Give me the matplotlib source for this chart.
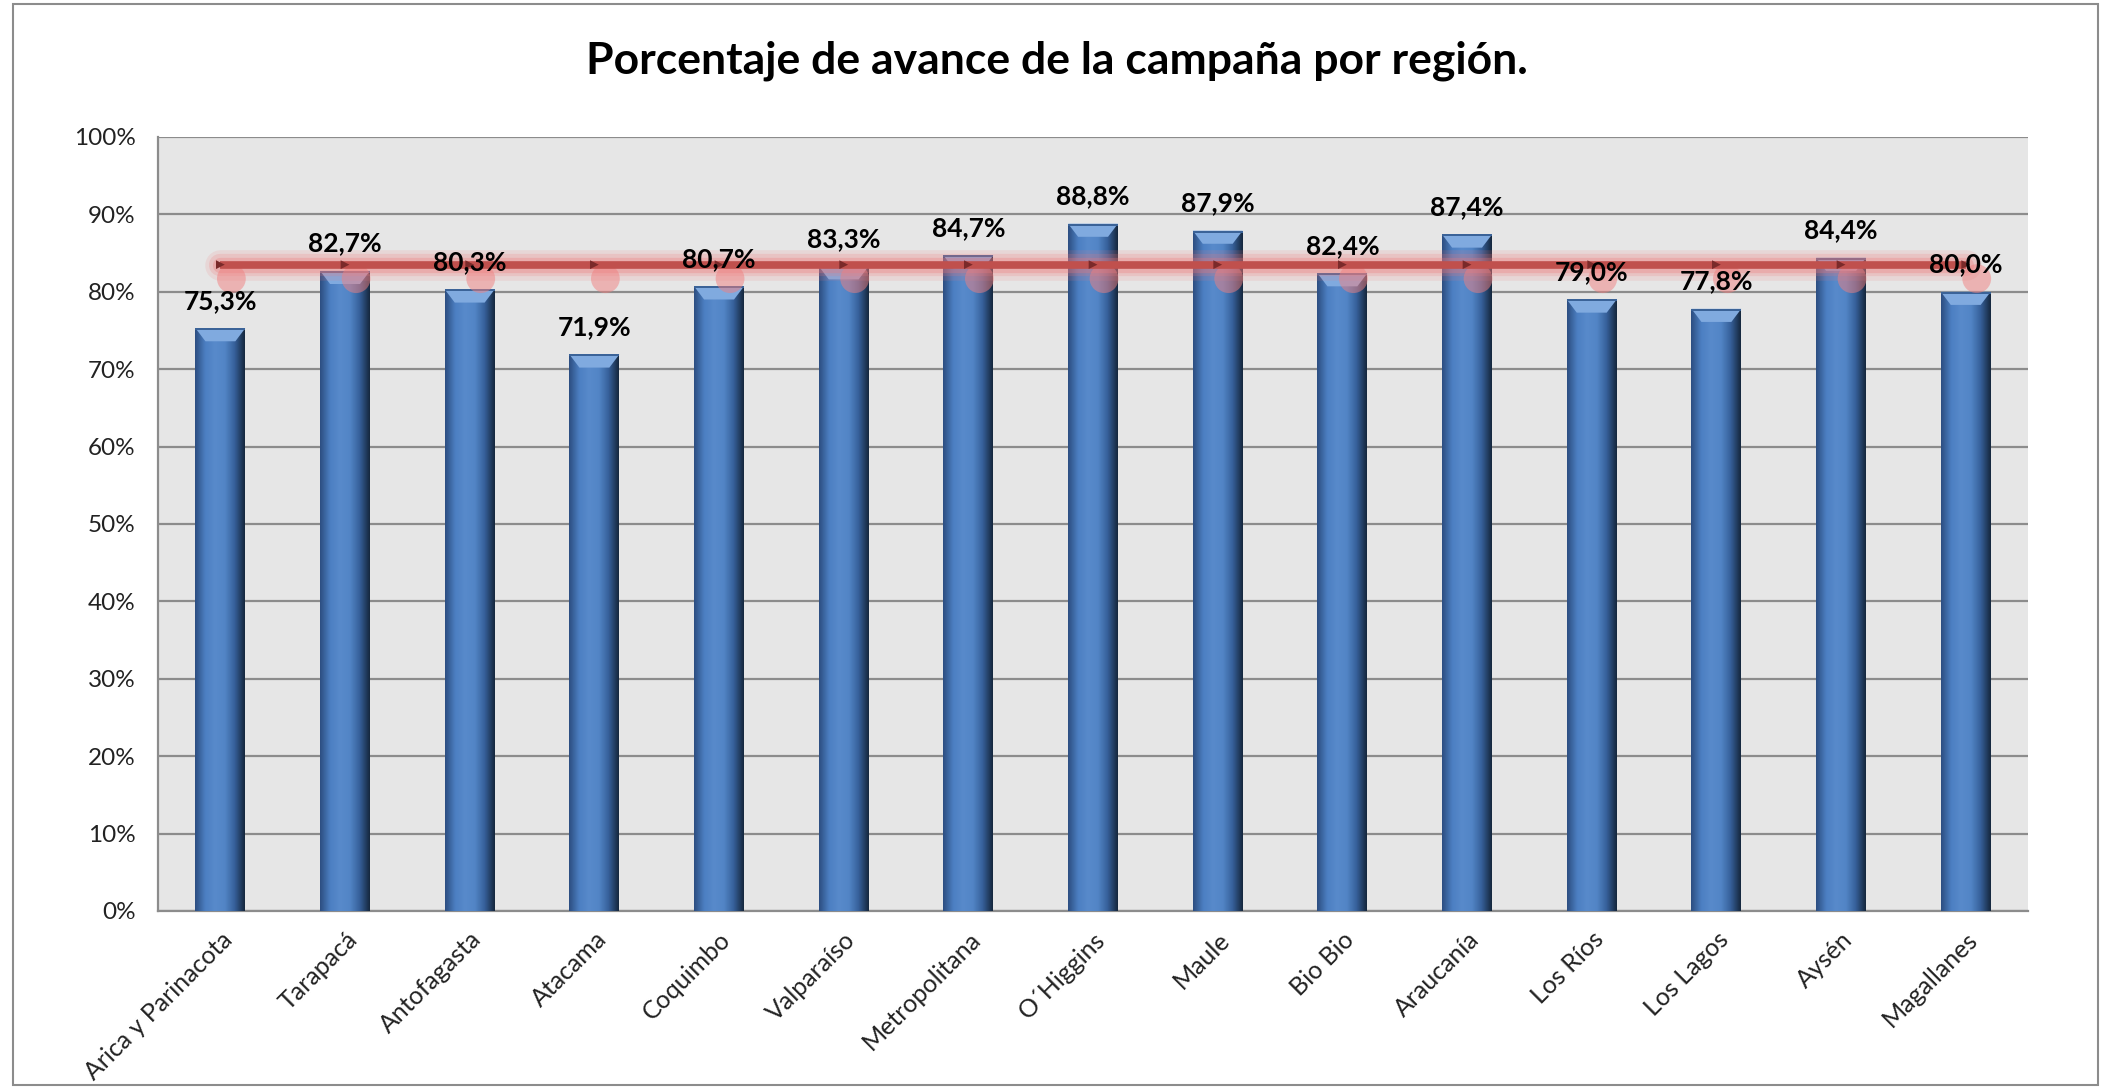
import numpy as np
import matplotlib.pyplot as plt
from matplotlib.colors import LinearSegmentedColormap
from matplotlib.patches import Polygon, Rectangle
import matplotlib.transforms as mtransforms

plt.rcParams['font.family'] = ['Lato', 'DejaVu Sans']

# --- datos ---
regiones = ['Arica y Parinacota', 'Tarapacá', 'Antofagasta', 'Atacama', 'Coquimbo',
            'Valparaíso', 'Metropolitana', 'O´Higgins', 'Maule', 'Bio Bio',
            'Araucanía', 'Los Ríos', 'Los Lagos', 'Aysén', 'Magallanes']
avance = [75.3, 82.7, 80.3, 71.9, 80.7, 83.3, 84.7, 88.8, 87.9, 82.4,
          87.4, 79.0, 77.8, 84.4, 80.0]
promedio_pais = [83.5] * len(regiones)
y_ticks = [0, 10, 20, 30, 40, 50, 60, 70, 80, 90, 100]

fig = plt.figure(figsize=(21.13, 10.87), dpi=100)
fig.patch.set_facecolor('white')
# borde del área del gráfico
fig.add_artist(Rectangle((0.006, 0.002), 0.987, 0.994, transform=fig.transFigure,
                         fill=False, edgecolor='#8c8c8c', linewidth=1.5))

ax = fig.add_axes([0.0748, 0.162, 0.885, 0.712])
ax.set_facecolor('#e6e6e6')

x = np.arange(len(regiones))
bars = ax.bar(x, avance, width=0.4, color='#4f81bd', edgecolor='none', zorder=3)

# efecto bisel de las barras
cmap = LinearSegmentedColormap.from_list('bisel', ['#2d4f82', '#4c7fc2', '#588acb',
                                                   '#5285c6', '#36609a', '#16283f'])
grad = np.linspace(0, 1, 64).reshape(1, -1)
for b in bars:
    bx, bw, bh = b.get_x(), b.get_width(), b.get_height()
    im = ax.imshow(grad, cmap=cmap, extent=(bx, bx + bw, 0, bh), aspect='auto',
                   zorder=3, interpolation='bilinear')
    im.set_clip_path(b)
    dx, dy = bw * 0.2, 1.7
    ax.add_patch(Polygon([(bx, bh), (bx + bw, bh), (bx + bw - dx, bh - dy), (bx + dx, bh - dy)],
                         closed=True, facecolor='#80aadf', edgecolor='none', zorder=4))
    ax.add_patch(Polygon([(bx, bh), (bx + bw, bh), (bx + bw, bh - 0.25), (bx, bh - 0.25)],
                         closed=True, facecolor='#3b6398', edgecolor='none', zorder=4))

# línea de promedio con brillo
for lw, a in [(22, 0.14), (16, 0.2), (11, 0.3)]:
    ax.plot(x, promedio_pais, color='#ee7777', linewidth=lw, alpha=a,
            solid_capstyle='round', zorder=5)
ax.plot(x, promedio_pais, color='#c0504d', linewidth=5.5, solid_capstyle='butt', zorder=6)
sombra = mtransforms.offset_copy(ax.transData, fig=fig, x=11, y=-14, units='dots')
ax.scatter(x, promedio_pais, s=430, color='#f08080', alpha=0.5, edgecolors='none',
           transform=sombra, zorder=5)
ax.scatter(x, promedio_pais, s=40, marker='>', color='#7a2a2a', edgecolors='none', zorder=7)

# etiquetas de datos
for xi, v in zip(x, avance):
    ax.annotate(f'{v:.1f}%'.replace('.', ','), (xi, v), xytext=(0, 11),
                textcoords='offset points', ha='center', va='bottom',
                fontsize=19, fontweight='bold', color='black', zorder=8)

ax.set_xlim(-0.5, len(regiones) - 0.5)
ax.set_ylim(0, 100)
ax.set_yticks(y_ticks)
ax.set_yticklabels([f'{t}%' for t in y_ticks], fontsize=17.5, color='#222222')
ax.set_xticks(x)
ax.set_xticklabels(regiones, rotation=45, ha='right', rotation_mode='anchor',
                   fontsize=18, color='#222222')
ax.tick_params(axis='both', length=0, pad=12)
ax.tick_params(axis='y', pad=16)
ax.grid(axis='y', color='#8c8c8c', linewidth=1.6, zorder=1)
ax.set_axisbelow(True)
for s in ['top', 'right']:
    ax.spines[s].set_visible(False)
for s in ['left', 'bottom']:
    ax.spines[s].set_color('#8c8c8c')
    ax.spines[s].set_linewidth(1.6)

fig.text(0.5, 0.944, 'Porcentaje de avance de la campaña por región.', ha='center',
         va='center', fontsize=32, fontweight='bold', color='black')

fig.savefig('out.png', dpi=100)
